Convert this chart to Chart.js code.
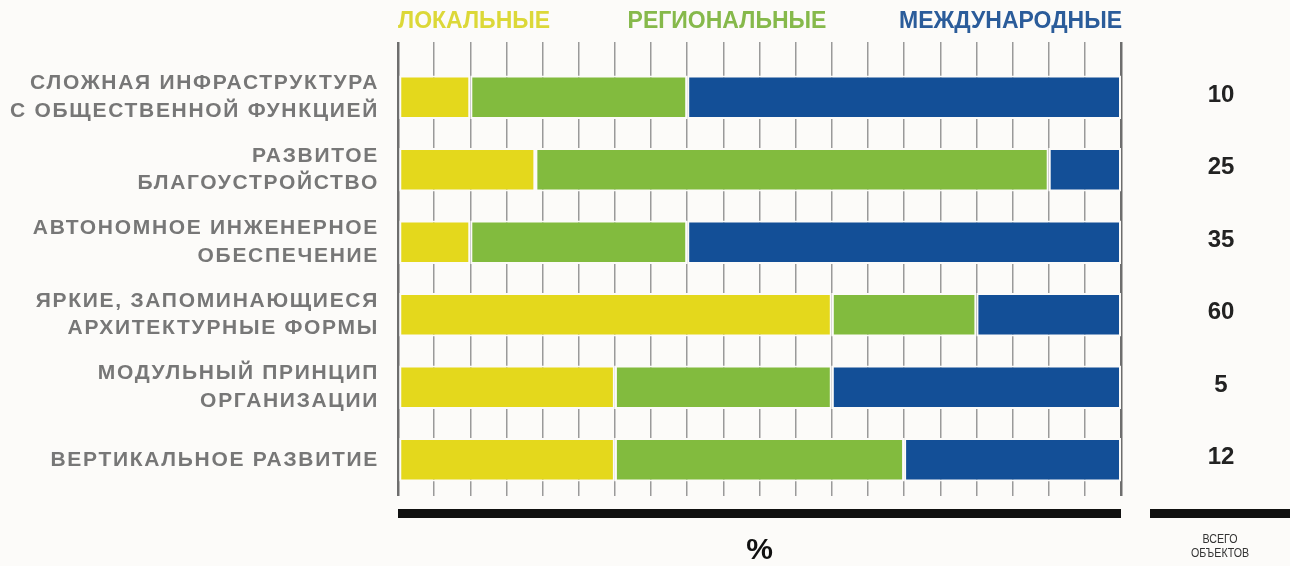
<!DOCTYPE html>
<html>
<head>
<meta charset="utf-8">
<script src="https://cdn.jsdelivr.net/npm/chart.js@4/dist/chart.umd.min.js"></script>
<style>
  html, body { margin: 0; padding: 0; background: #fcfbf9; }
  #wrap { width: 1290px; height: 566px; }
</style>
</head>
<body>
<div id="wrap"><canvas id="chart" width="1290" height="566"></canvas></div>
<script>
// data (shares in %, per row)
const categories = [
    ["СЛОЖНАЯ ИНФРАСТРУКТУРА", "С ОБЩЕСТВЕННОЙ ФУНКЦИЕЙ"],
    ["РАЗВИТОЕ", "БЛАГОУСТРОЙСТВО"],
    ["АВТОНОМНОЕ ИНЖЕНЕРНОЕ", "ОБЕСПЕЧЕНИЕ"],
    ["ЯРКИЕ, ЗАПОМИНАЮЩИЕСЯ", "АРХИТЕКТУРНЫЕ ФОРМЫ"],
    ["МОДУЛЬНЫЙ ПРИНЦИП", "ОРГАНИЗАЦИИ"],
    "ВЕРТИКАЛЬНОЕ РАЗВИТИЕ"
];
const seriesNames = ["ЛОКАЛЬНЫЕ", "РЕГИОНАЛЬНЫЕ", "МЕЖДУНАРОДНЫЕ"];
const localPct = [10, 19, 10, 60, 30, 30];
const regionalPct = [30, 71, 30, 20, 30, 40];
const internationalPct = [60, 10, 60, 20, 40, 30];
const totals = [10, 25, 35, 60, 5, 12];
const xTickStep = 5;
const axisTitle = "%";
const totalsTitle = ["ВСЕГО", "ОБЪЕКТОВ"];

const barColors = ['#e4d81c', '#82bb3e', '#134f97'];
const nameColors = ['#dcd838', '#86b94b', '#2b5c9a'];
const bg = '#fcfbf9';

const extras = {
    id: 'extras',
    beforeDraw(chart) {
        const ctx = chart.ctx;
        ctx.save();
        ctx.fillStyle = bg;
        ctx.fillRect(0, 0, chart.width, chart.height);
        ctx.restore();
        // wide-set category labels
        ctx.letterSpacing = '1.7px';
    },
    beforeDatasetsDraw(chart) {
        chart.ctx.letterSpacing = '0px';
    },
    afterDraw(chart) {
        const ctx = chart.ctx;
        const area = chart.chartArea;
        const yScale = chart.scales.y;
        ctx.letterSpacing = '0px';
        ctx.save();

        // series names across the top
        ctx.font = 'bold 23px "Liberation Sans Narrow", "Liberation Sans", Arial, sans-serif';
        ctx.textBaseline = 'middle';
        const nameX = [area.left, 727, area.right + 1];
        const nameAlign = ['left', 'center', 'right'];
        seriesNames.forEach(function(n, i) {
            ctx.fillStyle = nameColors[i];
            ctx.textAlign = nameAlign[i];
            ctx.fillText(n, nameX[i], 22);
        });

        // totals column
        ctx.font = 'bold 24px "Liberation Sans", Arial, sans-serif';
        ctx.fillStyle = '#222';
        ctx.textAlign = 'center';
        totals.forEach(function(t, i) {
            ctx.fillText(String(t), 1221, yScale.getPixelForValue(i) - 2);
        });

        // black rules under the chart
        ctx.fillStyle = '#111';
        ctx.fillRect(area.left, 509, area.right - area.left, 9);
        ctx.fillRect(1150, 509, 140, 9);

        ctx.font = 'bold 30px "Liberation Sans", Arial, sans-serif';
        ctx.fillText(axisTitle, (area.left + area.right) / 2, 551);

        ctx.fillStyle = '#333';
        ctx.font = '13px "Liberation Sans Narrow", "Liberation Sans", Arial, sans-serif';
        ctx.translate(1220, 0);
        ctx.scale(0.82, 1);
        ctx.fillText(totalsTitle[0], 0, 539);
        ctx.fillText(totalsTitle[1], 0, 553);
        ctx.restore();
    }
};

const datasets = [localPct, regionalPct, internationalPct].map(function(vals, i) {
    return {
        label: seriesNames[i],
        data: vals,
        backgroundColor: barColors[i],
        borderColor: bg,
        borderWidth: 2,
        borderSkipped: false,
        barPercentage: 0.6,
        categoryPercentage: 1
    };
});

const chart = new Chart(document.getElementById('chart').getContext('2d'), {
    type: 'bar',
    data: { labels: categories, datasets: datasets },
    plugins: [extras],
    options: {
        indexAxis: 'y',
        responsive: false,
        animation: false,
        layout: { padding: { top: 42, right: 169, bottom: 70, left: 0 } },
        plugins: { legend: { display: false }, tooltip: { enabled: false } },
        scales: {
            x: {
                position: 'top',
                stacked: true,
                min: 0,
                max: 100,
                ticks: { stepSize: xTickStep, display: false },
                border: { display: false },
                grid: {
                    tickLength: 19,
                    lineWidth: function(c) { return (c.tick && (c.tick.value === 0 || c.tick.value === 100)) ? 2.5 : 1.5; },
                    color: function(c) { return (c.tick && (c.tick.value === 0 || c.tick.value === 100)) ? '#6e6e6e' : '#9a9a9a'; }
                },
                afterFit: function(s) { s.height = 19; }
            },
            y: {
                stacked: true,
                grid: { display: false, drawTicks: false },
                border: { display: false },
                ticks: {
                    padding: 19,
                    color: '#777',
                    font: { family: '"Liberation Sans", Arial, sans-serif', size: 21, weight: 'bold', lineHeight: 1.3 }
                },
                afterFit: function(s) { s.width = 398; }
            }
        }
    }
});
</script>
</body>
</html>
